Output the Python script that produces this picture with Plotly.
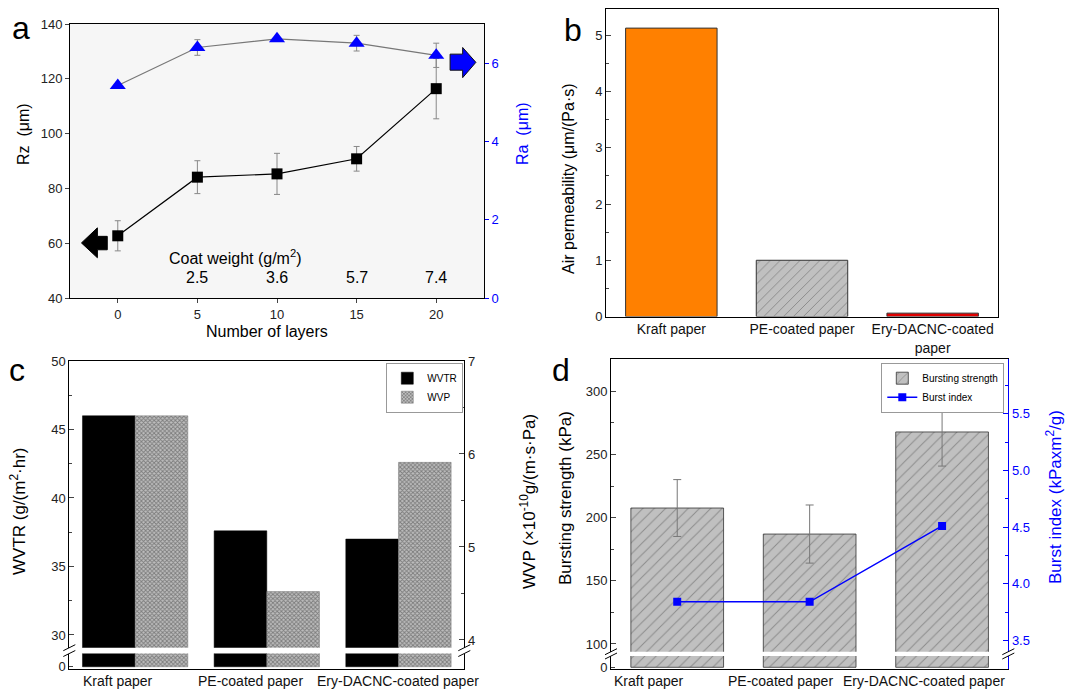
import plotly.graph_objects as go

# Page is rendered inside an 8px default body margin, so the figure is drawn 8px
# smaller and all layout pixel positions are given in page coordinates.
PAGE_W, PAGE_H = 1084, 691
OFF = 8
W, H = PAGE_W - OFF, PAGE_H - OFF
FONT = "Liberation Sans, Arial, Helvetica, sans-serif"
BLUE = "#0000ff"

# ---------------- data ----------------
# panel a
layers = [0, 5, 10, 15, 20]
rz = [62.7, 84.1, 85.3, 90.8, 116.4]
rz_err = [5.5, 6.0, 7.5, 4.5, 11.0]
ra = [5.43, 6.40, 6.62, 6.51, 6.20]
ra_err = [0.05, 0.20, 0.05, 0.20, 0.31]
coat_layers = [5, 10, 15, 20]
coat_weight = ["2.5", "3.6", "5.7", "7.4"]

# panel b
papers_b = ["Kraft paper", "PE-coated paper", "Ery-DACNC-coated<br>paper"]
air_perm = [5.13, 1.00, 0.06]

# panel c
papers = ["Kraft paper", "PE-coated paper", "Ery-DACNC-coated paper"]
wvtr = [46.0, 37.6, 37.0]
wvp = [6.41, 4.52, 5.91]

# panel d
burst_strength = [207.6, 187.0, 267.8]
burst_err = [22.5, 23.0, 27.0]
burst_index = [3.84, 3.84, 4.51]


def fx(px):
    return min(max((px - OFF) / W, 0), 1)


def fy(py):
    return min(max(1 - (py - OFF) / H, 0), 1)


fig = go.Figure()

# ---------------- panel a ----------------
fig.add_trace(go.Scatter(
    x=layers, y=rz, xaxis="x", yaxis="y", mode="lines+markers",
    line=dict(color="black", width=1.2),
    marker=dict(symbol="square", size=11, color="black"),
    error_y=dict(type="data", array=rz_err, color="#888", thickness=1, width=3),
    showlegend=False))
fig.add_trace(go.Scatter(
    x=layers, y=ra, xaxis="x", yaxis="y2", mode="lines+markers",
    line=dict(color="#777", width=1.2),
    marker=dict(symbol="triangle-up", size=14, color=BLUE),
    error_y=dict(type="data", array=ra_err, color="#888", thickness=1, width=3),
    showlegend=False))

# ---------------- panel b ----------------
fig.add_trace(go.Bar(
    x=papers_b, y=air_perm, xaxis="x2", yaxis="y3", width=0.7,
    marker=dict(color=["#ff8000", "#c0c0c0", "#e00000"],
                line=dict(color="#333", width=1),
                pattern=dict(shape=["", "/", ""], fgcolor="#555", size=7, solidity=0.12)),
    showlegend=False))

# ---------------- panel c ----------------
wvtr_style = dict(color="black", line=dict(color="black", width=0.5))
wvp_style = dict(color="#a8a8a8", line=dict(color="#777", width=0.5),
                 pattern=dict(shape="x", fgcolor="#3a3a3a", bgcolor="#bdbdbd", size=3, solidity=0.5))
fig.add_trace(go.Bar(x=papers, y=wvtr, xaxis="x3", yaxis="y4", width=0.4, offset=-0.4,
                     marker=wvtr_style, name="WVTR", legend="legend"))
fig.add_trace(go.Bar(x=papers, y=wvp, xaxis="x3", yaxis="y5", width=0.4, offset=0,
                     marker=wvp_style, name="WVP", legend="legend"))
fig.add_trace(go.Bar(x=papers, y=wvtr, xaxis="x4", yaxis="y6", width=0.4, offset=-0.4,
                     marker=wvtr_style, showlegend=False))
fig.add_trace(go.Bar(x=papers, y=wvp, xaxis="x4", yaxis="y6", width=0.4, offset=0,
                     marker=wvp_style, showlegend=False))

# ---------------- panel d ----------------
bs_style = dict(color="#c0c0c0", line=dict(color="#333", width=0.8),
                pattern=dict(shape="/", fgcolor="#555", bgcolor="#c0c0c0", size=8, solidity=0.12))
fig.add_trace(go.Bar(x=papers, y=burst_strength, xaxis="x5", yaxis="y7", width=0.7,
                     marker=bs_style, name="Bursting strength", legend="legend2",
                     error_y=dict(type="data", array=burst_err, color="#777", thickness=1, width=4)))
fig.add_trace(go.Scatter(x=papers, y=burst_index, xaxis="x5", yaxis="y8", mode="lines+markers",
                         line=dict(color=BLUE, width=1.5),
                         marker=dict(symbol="square", size=8, color=BLUE),
                         name="Burst index", legend="legend2"))
fig.add_trace(go.Bar(x=papers, y=burst_strength, xaxis="x6", yaxis="y9", width=0.7,
                     marker=bs_style, showlegend=False))
fig.add_trace(go.Scatter(x=[], y=[], xaxis="x6", yaxis="y10", showlegend=False))

# ---------------- axes ----------------
tickf = dict(family=FONT, size=13, color="#222")
catf = dict(family=FONT, size=14, color="#111")
common = dict(showline=True, linecolor="black", linewidth=1, automargin=False,
              showgrid=False, zeroline=False, tickfont=tickf)

layout = dict(
    width=W, height=H, margin=dict(l=0, r=0, t=0, b=0),
    paper_bgcolor="white", plot_bgcolor="white",
    font=dict(family=FONT, color="black"),
    barmode="overlay",
    # a
    xaxis=dict(**common, domain=[fx(70), fx(484)], anchor="y", range=[-3, 23],
               tickvals=layers, ticks="outside", ticklen=4, mirror=True),
    yaxis=dict(**common, domain=[fy(298), fy(24)], anchor="x", range=[40, 140],
               dtick=20, ticks="outside", ticklen=4),
    yaxis2=dict(**{**common, "tickfont": dict(family=FONT, size=13, color=BLUE)},
                overlaying="y", side="right", anchor="x", range=[0, 7],
                dtick=2, ticks="outside", ticklen=4, tickcolor=BLUE),
    # b
    xaxis2=dict(**{**common, "tickfont": catf}, domain=[fx(606), fx(998)], anchor="y3",
                type="category", range=[-0.5, 2.5], ticks="", mirror=True, tickangle=0),
    yaxis3=dict(**common, domain=[fy(316.5), fy(9)], anchor="x2", range=[0, 5.47],
                dtick=1, ticks="inside", ticklen=5, mirror=True,
                minor=dict(dtick=0.5, ticks="inside", ticklen=3)),
    # c top
    xaxis3=dict(**common, domain=[fx(69.3), fx(464.3)], anchor="y4", side="top",
                type="category", range=[-0.5, 2.5], ticks="", showticklabels=False),
    yaxis4=dict(**common, domain=[fy(647.7), fy(361)], anchor="x3", range=[29.07, 50],
                dtick=5, ticks="inside", ticklen=5,
                minor=dict(dtick=2.5, ticks="inside", ticklen=3)),
    yaxis5=dict(**common, overlaying="y4", side="right", anchor="x3", range=[3.917, 7],
                dtick=1, ticks="inside", ticklen=5,
                minor=dict(dtick=0.5, ticks="inside", ticklen=3)),
    # c bottom
    xaxis4=dict(**common, domain=[fx(69.3), fx(464.3)], anchor="y6",
                type="category", range=[-0.5, 2.5], ticks="", showticklabels=False),
    yaxis6=dict(**common, domain=[fy(668.5), fy(653.5)], anchor="x4", range=[-0.4, 3],
                tickvals=[0], ticks="inside", ticklen=4, mirror=True),
    # d top
    xaxis5=dict(**common, domain=[fx(611), fx(1008.3)], anchor="y7", side="top",
                type="category", range=[-0.5, 2.5], ticks="", showticklabels=False),
    yaxis7=dict(**common, domain=[fy(651.7), fy(359.3)], anchor="x5", range=[93.9, 325.3],
                dtick=50, ticks="inside", ticklen=5,
                minor=dict(dtick=25, ticks="inside", ticklen=3)),
    yaxis8=dict(**{**common, "linecolor": BLUE, "tickfont": dict(family=FONT, size=13, color=BLUE)},
                overlaying="y7", side="right", anchor="x5", range=[3.40, 5.98],
                dtick=0.5, tickformat=".1f", ticks="inside", ticklen=5, tickcolor=BLUE,
                minor=dict(dtick=0.25, ticks="inside", ticklen=3, tickcolor=BLUE)),
    # d bottom
    xaxis6=dict(**common, domain=[fx(611), fx(1008.3)], anchor="y9",
                type="category", range=[-0.5, 2.5], ticks="", showticklabels=False),
    yaxis9=dict(**common, domain=[fy(669), fy(656)], anchor="x6", range=[-15, 100],
                tickvals=[0], ticks="inside", ticklen=4),
    yaxis10=dict(**{**common, "linecolor": BLUE}, overlaying="y9", side="right", anchor="x6",
                 range=[-15, 100], ticks="", showticklabels=False),
    legend=dict(x=fx(463.3), y=fy(362.7), xanchor="right", yanchor="top",
                bgcolor="white", bordercolor="#999", borderwidth=1,
                font=dict(family=FONT, size=10), tracegroupgap=0, itemwidth=30),
    legend2=dict(x=fx(1004.3), y=fy(362.7), xanchor="right", yanchor="top",
                 bgcolor="white", bordercolor="#999", borderwidth=1,
                 font=dict(family=FONT, size=10), tracegroupgap=0, itemwidth=30),
)
fig.update_layout(**layout)

# ---------------- shapes ----------------
shapes = []
# panel a light background
shapes.append(dict(type="rect", xref="x domain", yref="y domain", x0=0, x1=1, y0=0, y1=1,
                   fillcolor="#f6f6f6", line=dict(width=0), layer="below"))
# arrows in panel a
shapes.append(dict(type="path", xref="x", yref="y",
                   path="M -2.28,60.1 L -1.28,65.6 L -1.28,62.5 L -0.66,62.5 L -0.66,57.6 L -1.28,57.6 L -1.28,54.7 Z",
                   fillcolor="black", line=dict(color="black", width=1)))
shapes.append(dict(type="path", xref="x", yref="y2",
                   path="M 22.49,6.02 L 21.66,6.40 L 21.66,6.23 L 20.87,6.23 L 20.87,5.82 L 21.66,5.82 L 21.66,5.63 Z",
                   fillcolor=BLUE, line=dict(color="#111", width=1)))


# axis break marks
def brk(xp, y_top, y_bot):
    for yy in (y_top, y_bot):
        shapes.append(dict(type="line", xref="paper", yref="paper",
                           x0=fx(xp - 6), y0=fy(yy + 3), x1=fx(xp + 6), y1=fy(yy - 3),
                           line=dict(color="black", width=1)))


brk(69.3, 647.7, 653.5)
brk(464.3, 647.7, 653.5)
brk(611, 651.7, 656)
brk(1008.3, 651.7, 656)
fig.update_layout(shapes=shapes)

# ---------------- annotations ----------------
ann = []


def txt(text, xp, yp, size, color="black", angle=0):
    ann.append(dict(text=text, x=fx(xp), y=fy(yp), xref="paper", yref="paper",
                    showarrow=False, textangle=angle, xanchor="center", yanchor="middle",
                    font=dict(family=FONT, size=size, color=color)))


# panel letters
txt("a", 21, 28, 32)
txt("b", 573, 30, 32)
txt("c", 17, 370, 32)
txt("d", 561, 370, 32)
# axis titles
txt("Rz\u00a0 (μm)", 24, 134, 16, angle=-90)
txt("Ra\u00a0 (μm)", 523, 134, 16, color=BLUE, angle=-90)
txt("Number of layers", 267, 331, 16)
txt("Air permeability (μm/(Pa·s)", 568, 179, 16, angle=-90)
txt("WVTR (g/(m<sup>2</sup>·hr)", 18, 511, 17, angle=-90)
txt("WVP (×10<sup>-10</sup>g/(m·s·Pa)", 528, 502, 17, angle=-90)
txt("Bursting strength (kPa)", 565, 498, 17, angle=-90)
txt("Burst index (kPaxm<sup>2</sup>/g)", 1054, 497, 17, color=BLUE, angle=-90)

# coat weight labels inside panel a
ann.append(dict(text="Coat weight (g/m<sup>2</sup>)", x=7.4, y=55.1, xref="x", yref="y",
                showarrow=False, font=dict(family=FONT, size=16, color="black")))
for lx, cw in zip(coat_layers, coat_weight):
    ann.append(dict(text=cw, x=lx, y=47.6, xref="x", yref="y", showarrow=False,
                    font=dict(family=FONT, size=16, color="black")))

# category labels under panels c and d (placed as in the original figure)
for cat, sh in zip(papers, [-17, -16, 0]):
    ann.append(dict(text=cat, x=cat, xref="x4", y=fy(681), yref="paper", xshift=sh,
                    showarrow=False, yanchor="middle", font=catf))
for cat, sh in zip(papers, [-28, -29, -18]):
    ann.append(dict(text=cat, x=cat, xref="x6", y=fy(681), yref="paper", xshift=sh,
                    showarrow=False, yanchor="middle", font=catf))
fig.update_layout(annotations=ann)

fig.write_html("out.html")
